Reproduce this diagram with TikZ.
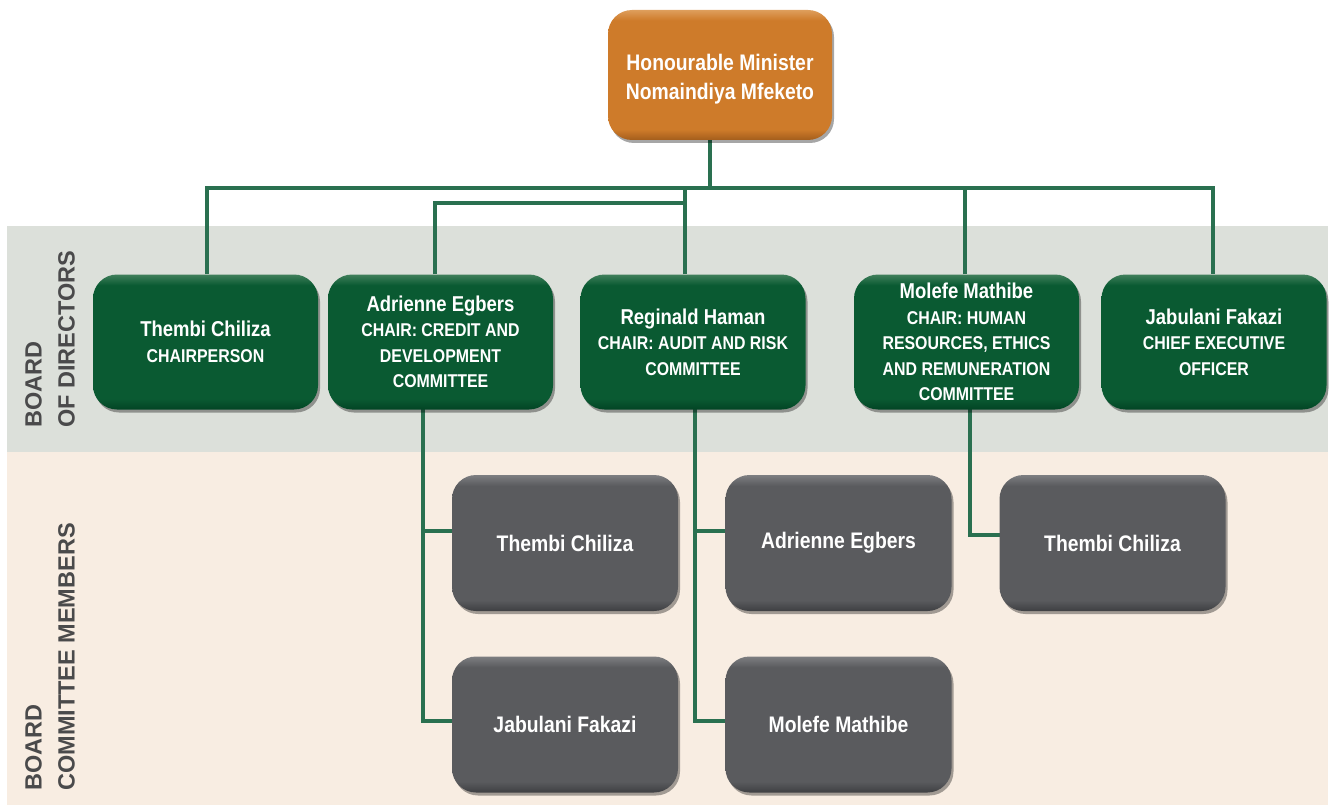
\documentclass[tikz,border=0pt]{standalone}
\usepackage{fontspec}
\usetikzlibrary{calc,shadows}
\newfontfamily\condf{Liberation Sans}[FakeStretch=0.86]
\newfontfamily\labf{Liberation Sans}
\definecolor{orm}{HTML}{CE7B2A}\definecolor{orl}{HTML}{DE9E5C}\definecolor{ord}{HTML}{A35D1C}
\definecolor{grm}{HTML}{0A5A32}\definecolor{grl}{HTML}{3F7F5B}\definecolor{grd}{HTML}{024424}
\definecolor{gym}{HTML}{5A5B5E}\definecolor{gyl}{HTML}{7D7E81}\definecolor{gyd}{HTML}{3E3F42}
\definecolor{connc}{HTML}{2A7050}
\definecolor{bandg}{HTML}{DCE0DA}
\definecolor{bandp}{HTML}{F8EDE2}
\definecolor{labc}{HTML}{4A4A4B}
\pgfdeclareverticalshading{orsh}{100bp}{color(0bp)=(ord); color(25bp)=(ord); color(29bp)=(orm); color(71bp)=(orm); color(75bp)=(orl); color(100bp)=(orl)}
\pgfdeclareverticalshading{grsh}{100bp}{color(0bp)=(grd); color(25bp)=(grd); color(29bp)=(grm); color(71bp)=(grm); color(75bp)=(grl); color(100bp)=(grl)}
\pgfdeclareverticalshading{gysh}{100bp}{color(0bp)=(gyd); color(25bp)=(gyd); color(29bp)=(gym); color(71bp)=(gym); color(75bp)=(gyl); color(100bp)=(gyl)}
\tikzset{
  boxbase/.style={rounded corners=24pt, align=center, text=white, inner sep=2pt,
    drop shadow={shadow xshift=2pt, shadow yshift=-3pt, opacity=0.35, fill=black}},
  minbox/.style={boxbase, shading=orsh, minimum width=224pt, minimum height=130pt},
  mintext/.style={align=center, text=white, inner sep=0pt,
    font=\condf\bfseries\fontsize{22.5}{29}\selectfont},
  gbox/.style={boxbase, shading=grsh, minimum width=225pt, minimum height=135pt,
    font=\condf\bfseries\fontsize{18.5}{25.5}\selectfont},
  ybox/.style={boxbase, shading=gysh, minimum width=226pt, minimum height=136pt,
    font=\condf\bfseries\fontsize{22.5}{25}\selectfont},
  conn/.style={draw=connc, line width=4pt},
  sidelab/.style={rotate=90, anchor=west, align=left, text=labc,
    font=\labf\bfseries\fontsize{23.5}{33}\selectfont, inner sep=0pt}
}
\newcommand{\nm}[1]{{\fontsize{21.5}{25.5}\selectfont #1}}
\begin{document}
\begin{tikzpicture}[x=1pt,y=-1pt]
\useasboundingbox (0,0) rectangle (1332,805);
\fill[white] (0,0) rectangle (1332,805);
\fill[bandg] (7,226) rectangle (1328,452);
\fill[bandp] (7,452) rectangle (1328,805);

\node[sidelab] (lab1) at (50,428) {BOARD\\OF DIRECTORS};
\node[sidelab] (lab2) at (50,791) {BOARD\\COMMITTEE MEMBERS};

% positions
\coordinate (pmin) at (720,75);
\coordinate (p1) at (205.5,342);
\coordinate (p2) at (440.5,342);
\coordinate (p3) at (693,342);
\coordinate (p4) at (966.5,342);
\coordinate (p5) at (1214,342);

% phantom nodes for connector anchors
\path node[minimum width=224pt, minimum height=130pt, inner sep=0pt] (min) at (pmin) {};
\path node[minimum width=225pt, minimum height=135pt, inner sep=0pt] (thembi) at (p1) {};
\path node[minimum width=225pt, minimum height=135pt, inner sep=0pt] (adrienne) at (p2) {};
\path node[minimum width=225pt, minimum height=135pt, inner sep=0pt] (reginald) at (p3) {};
\path node[minimum width=225pt, minimum height=135pt, inner sep=0pt] (molefe) at (p4) {};
\path node[minimum width=225pt, minimum height=135pt, inner sep=0pt] (jabulani) at (p5) {};
\path node[minimum width=226pt, minimum height=136pt, inner sep=0pt] (ct) at (565,543) {};
\path node[minimum width=226pt, minimum height=136pt, inner sep=0pt] (cj) at (565,724.5) {};
\path node[minimum width=226pt, minimum height=136pt, inner sep=0pt] (ca) at (838.5,543) {};
\path node[minimum width=226pt, minimum height=136pt, inner sep=0pt] (cm) at (838.5,724.5) {};
\path node[minimum width=226pt, minimum height=136pt, inner sep=0pt] (cth) at (1112.5,543) {};

% connectors
\draw[conn] ($(min.south)+(-10,0)$) -- ($(min.south)+(-10,48)$);
\draw[conn] ($(thembi.north)+(1.5,0)$) -- ++(0,-86.5) -| ($(jabulani.north)+(-1,0)$);
\draw[conn] ($(reginald.north)+(-8,0)$) -- ++(0,-86.5);
\draw[conn] ($(molefe.north)+(-1.5,0)$) -- ++(0,-86.5);
\draw[conn] ($(adrienne.north)+(-5.5,0)$) -- ++(0,-71.5) -| ($(reginald.north)+(-8,-71.5)$);
\draw[conn] ($(adrienne.south)+(-17.5,-2)$) |- ($(cj.west)+(2,-4)$);
\draw[conn] ($(ct.west)+(2,-12)$) -- ++(-32,0);
\draw[conn] ($(reginald.south)+(2,-2)$) |- ($(cm.west)+(2,-4)$);
\draw[conn] ($(ca.west)+(2,-12)$) -- ++(-33,0);
\draw[conn] ($(molefe.south)+(3.5,-2)$) |- ($(cth.west)+(2,-8)$);

% boxes
\node[minbox] (minbg) at (pmin) {};
\node[mintext] (mintxt) at (720,79) {Honourable Minister\\Nomaindiya Mfeketo};
\node[gbox] (b1) at (p1) {\nm{Thembi Chiliza}\\CHAIRPERSON};
\node[gbox] (b2) at (p2) {\nm{Adrienne Egbers}\\CHAIR: CREDIT AND\\DEVELOPMENT\\COMMITTEE};
\node[gbox] (b3) at (p3) {\nm{Reginald Haman}\\CHAIR: AUDIT AND RISK\\COMMITTEE};
\node[gbox] (b4) at (p4) {\nm{Molefe Mathibe}\\CHAIR: HUMAN\\RESOURCES, ETHICS\\AND REMUNERATION\\COMMITTEE};
\node[gbox] (b5) at (p5) {\nm{Jabulani Fakazi}\\CHIEF EXECUTIVE\\OFFICER};
\node[ybox] (y1) at (ct) {Thembi Chiliza};
\node[ybox] (y2) at (cj) {Jabulani Fakazi};
\node[ybox] (y3) at (ca) {Adrienne Egbers};
\node[ybox] (y4) at (cm) {Molefe Mathibe};
\node[ybox] (y5) at (cth) {Thembi Chiliza};
\end{tikzpicture}
\end{document}
